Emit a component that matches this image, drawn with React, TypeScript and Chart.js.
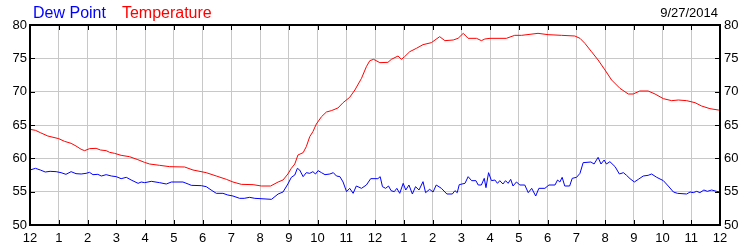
import React, { useEffect, useRef } from "react";
import { Chart, registerables } from "chart.js";

Chart.register(...registerables);

const seriesNames = ["Dew Point", "Temperature"];
const seriesColors = ["#0000ff", "#ff0000"];
const dateLabel = "9/27/2014";
const xTickLabels = ["12", "1", "2", "3", "4", "5", "6", "7", "8", "9", "10", "11", "12", "1", "2", "3", "4", "5", "6", "7", "8", "9", "10", "11", "12"];

const tempHours = [0, 0.19, 0.36, 0.62, 1.0, 1.2, 1.43, 1.6, 1.78, 1.9, 2.07, 2.3, 2.45, 2.65, 2.77, 2.94, 3.17, 3.46, 3.75, 3.98, 4.16, 4.51, 4.86, 5.38, 5.67, 6.13, 6.48, 6.83, 7.06, 7.35, 7.76, 8.05, 8.37, 8.63, 8.8, 8.97, 9.09, 9.21, 9.32, 9.5, 9.61, 9.73, 9.84, 9.96, 10.14, 10.31, 10.48, 10.71, 10.89, 11.12, 11.3, 11.53, 11.7, 11.82, 11.95, 12.17, 12.45, 12.57, 12.8, 12.92, 13.03, 13.21, 13.44, 13.67, 13.96, 14.25, 14.43, 14.72, 14.89, 15.07, 15.24, 15.53, 15.7, 15.82, 16.0, 16.57, 16.86, 17.1, 17.67, 18.02, 18.49, 18.95, 19.13, 19.3, 19.53, 19.76, 20.0, 20.23, 20.52, 20.81, 20.98, 21.21, 21.5, 21.74, 22.03, 22.32, 22.55, 22.84, 23.13, 23.36, 23.65, 23.94, 24.0];
const tempValues = [64.35, 64.2, 63.85, 63.35, 62.95, 62.55, 62.25, 61.85, 61.35, 61.15, 61.45, 61.5, 61.25, 61.15, 60.9, 60.75, 60.45, 60.25, 59.8, 59.4, 59.15, 58.95, 58.75, 58.7, 58.25, 57.85, 57.35, 56.85, 56.45, 56.1, 56.05, 55.85, 55.85, 56.45, 56.75, 57.65, 58.5, 59.15, 60.5, 60.85, 61.75, 63.25, 64.0, 65.15, 66.25, 66.95, 67.15, 67.55, 68.35, 69.15, 70.25, 72.0, 73.75, 74.65, 74.85, 74.35, 74.4, 74.85, 75.35, 74.85, 75.25, 76.0, 76.5, 77.05, 77.35, 78.25, 77.65, 77.75, 78.0, 78.75, 78.0, 78.0, 77.65, 77.9, 78.0, 78.0, 78.45, 78.45, 78.75, 78.55, 78.45, 78.35, 78.0, 77.25, 76.0, 74.75, 73.25, 71.75, 70.5, 69.65, 69.65, 70.1, 70.1, 69.65, 68.95, 68.65, 68.75, 68.65, 68.35, 67.85, 67.45, 67.25, 67.2];

const dewHours = [0, 0.19, 0.36, 0.53, 0.7, 0.91, 1.08, 1.25, 1.43, 1.6, 1.78, 1.95, 2.07, 2.19, 2.36, 2.48, 2.65, 2.83, 3.0, 3.17, 3.35, 3.52, 3.76, 3.87, 3.99, 4.22, 4.51, 4.74, 4.92, 5.32, 5.5, 5.61, 5.96, 6.13, 6.3, 6.48, 6.71, 6.88, 7.06, 7.29, 7.45, 7.64, 7.82, 8.4, 8.63, 8.8, 8.97, 9.09, 9.21, 9.3, 9.38, 9.5, 9.61, 9.73, 9.84, 9.93, 10.02, 10.14, 10.26, 10.43, 10.55, 10.66, 10.78, 10.89, 11.01, 11.12, 11.24, 11.35, 11.53, 11.7, 11.85, 12.1, 12.18, 12.26, 12.37, 12.47, 12.56, 12.67, 12.76, 12.86, 12.98, 13.07, 13.18, 13.3, 13.41, 13.53, 13.67, 13.76, 13.9, 14.02, 14.13, 14.31, 14.5, 14.69, 14.78, 14.86, 14.93, 15.13, 15.24, 15.36, 15.51, 15.59, 15.7, 15.8, 15.86, 15.95, 16.05, 16.17, 16.26, 16.34, 16.45, 16.54, 16.63, 16.72, 16.8, 16.92, 17.04, 17.21, 17.33, 17.45, 17.59, 17.7, 17.91, 18.05, 18.26, 18.35, 18.43, 18.51, 18.6, 18.77, 18.86, 19.01, 19.13, 19.24, 19.51, 19.62, 19.76, 19.86, 19.97, 20.05, 20.17, 20.35, 20.5, 20.64, 20.75, 20.87, 21.02, 21.16, 21.33, 21.5, 21.62, 21.8, 22.03, 22.2, 22.38, 22.52, 22.84, 22.96, 23.07, 23.19, 23.3, 23.44, 23.56, 23.71, 23.88, 24.0];
const dewValues = [58.25, 58.5, 58.25, 57.95, 58.05, 58.0, 57.85, 57.6, 58.0, 57.7, 57.65, 57.75, 57.9, 57.55, 57.6, 57.35, 57.55, 57.35, 57.25, 56.95, 57.15, 56.75, 56.25, 56.45, 56.35, 56.55, 56.35, 56.15, 56.45, 56.45, 56.15, 55.95, 55.9, 55.75, 55.25, 54.75, 54.75, 54.5, 54.35, 54.0, 54.0, 54.15, 54.0, 53.85, 54.65, 54.95, 56.15, 57.15, 57.5, 58.5, 58.25, 57.25, 57.85, 57.75, 58.0, 57.65, 58.15, 57.85, 57.55, 57.65, 57.85, 57.35, 57.25, 56.45, 55.0, 55.5, 54.75, 55.85, 55.5, 56.0, 56.95, 56.95, 57.25, 55.75, 55.5, 55.85, 55.15, 55.0, 55.5, 54.75, 56.25, 55.25, 56.0, 54.65, 55.75, 55.25, 56.5, 54.85, 55.35, 54.95, 56.0, 55.5, 54.65, 54.65, 55.15, 54.85, 56.05, 56.25, 57.25, 56.65, 56.65, 56.0, 56.0, 57.0, 55.6, 57.85, 56.65, 56.75, 56.25, 56.65, 56.15, 56.65, 56.25, 56.85, 55.85, 56.45, 56.0, 56.0, 54.85, 55.5, 54.35, 55.5, 55.5, 56.0, 56.0, 56.75, 56.45, 57.15, 55.85, 55.85, 57.0, 57.15, 57.75, 59.35, 59.45, 59.15, 60.15, 59.15, 59.75, 59.15, 59.5, 58.75, 57.65, 57.85, 57.45, 56.95, 56.45, 56.85, 57.35, 57.45, 57.65, 57.15, 56.65, 55.85, 54.95, 54.75, 54.65, 54.95, 54.85, 55.05, 54.85, 55.25, 55.05, 55.25, 55.05, 54.95];

const FONT = "'Liberation Sans', Arial, sans-serif";

const framePlugin = {
  id: "frame",
  afterDraw(chart: any) {
    const { ctx, chartArea, scales } = chart;
    const { left, right, top, bottom } = chartArea;
    ctx.save();
    ctx.strokeStyle = "#000";
    ctx.lineWidth = 1;
    ctx.beginPath();
    const xs = scales.x;
    for (let v = 1; v < xTickLabels.length - 1; v++) {
      const px = Math.round(xs.getPixelForValue(v)) + 0.5;
      ctx.moveTo(px, top);
      ctx.lineTo(px, top + 5);
      ctx.moveTo(px, bottom);
      ctx.lineTo(px, bottom - 5);
    }
    const ys = scales.y;
    for (let v = 55; v < 80; v += 5) {
      const py = Math.round(ys.getPixelForValue(v)) + 0.5;
      ctx.moveTo(left, py);
      ctx.lineTo(left + 5, py);
      ctx.moveTo(right, py);
      ctx.lineTo(right - 5, py);
    }
    ctx.stroke();
    ctx.lineWidth = 2;
    ctx.strokeRect(left, top, right - left, bottom - top);
    ctx.textBaseline = "alphabetic";
    ctx.font = `16px ${FONT}`;
    ctx.textAlign = "left";
    let x = 33;
    seriesNames.forEach((name, i) => {
      ctx.fillStyle = seriesColors[i];
      ctx.fillText(name, x, 18);
      x += ctx.measureText(name).width + 16;
    });
    ctx.font = `13px ${FONT}`;
    ctx.fillStyle = "#000";
    ctx.textAlign = "right";
    ctx.fillText(dateLabel, 718, 17);
    ctx.restore();
  },
};

export default function App() {
  const ref = useRef<HTMLCanvasElement | null>(null);
  useEffect(() => {
    if (!ref.current) return;
    const chart = new Chart(ref.current, {
      type: "line",
      data: {
        datasets: [
          {
            label: seriesNames[0],
            data: dewHours.map((h, i) => ({ x: h, y: dewValues[i] })),
            borderColor: seriesColors[0],
            borderWidth: 1,
            pointRadius: 0,
            tension: 0,
            yAxisID: "y",
          },
          {
            label: seriesNames[1],
            data: tempHours.map((h, i) => ({ x: h, y: tempValues[i] })),
            borderColor: seriesColors[1],
            borderWidth: 1,
            pointRadius: 0,
            tension: 0,
            yAxisID: "y",
          },
        ],
      },
      options: {
        responsive: false,
        animation: false,
        layout: { padding: { top: 25, left: 0, right: 0, bottom: 0 } },
        plugins: { legend: { display: false }, tooltip: { enabled: false } },
        scales: {
          x: {
            type: "linear",
            min: 0,
            max: 24,
            afterFit: (s: any) => { s.height = 25; },
            afterBuildTicks: (s: any) => { s.ticks = xTickLabels.map((_, i) => ({ value: i })); },
            grid: { color: "#c8c8c8", drawTicks: false, lineWidth: 1 },
            border: { display: false },
            ticks: {
              autoSkip: false,
              maxRotation: 0,
              padding: 6,
              color: "#000",
              font: { family: FONT, size: 13 },
              callback: (v: any) => xTickLabels[Math.round(Number(v))] ?? "",
            },
          },
          y: {
            position: "left",
            min: 50,
            max: 80,
            afterFit: (s: any) => { s.width = 30; },
            grid: { color: "#c8c8c8", drawTicks: false, lineWidth: 1 },
            border: { display: false },
            ticks: { stepSize: 5, padding: 3, color: "#000", font: { family: FONT, size: 13 } },
          },
          y2: {
            position: "right",
            min: 50,
            max: 80,
            afterFit: (s: any) => { s.width = 30; },
            grid: { display: false, drawTicks: false },
            border: { display: false },
            ticks: { stepSize: 5, padding: 4, color: "#000", font: { family: FONT, size: 13 } },
          },
        },
      },
      plugins: [framePlugin],
    });
    return () => chart.destroy();
  }, []);
  return (
    <div style={{ position: "absolute", left: 0, top: 0, width: 750, height: 250, background: "#fff" }}>
      <canvas ref={ref} width={750} height={250} />
    </div>
  );
}
